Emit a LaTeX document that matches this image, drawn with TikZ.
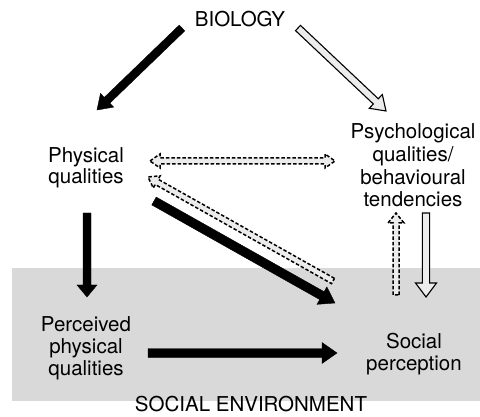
\documentclass[tikz,border=0pt]{standalone}
\usepackage{fontspec}
\setmainfont{TeX Gyre Heros}
\usetikzlibrary{calc}

% Block arrow drawn as a polygon from tail #2 to tip #3:
% #4 half shaft width, #5 half head width, #6 head length
\newcommand\blockarrow[6][]{%
  \coordinate (hb) at ($(#3)!#6!(#2)$);
  \draw[#1] ($(#2)!#4!-90:(#3)$) -- ($(hb)!#4!90:(#2)$) -- ($(hb)!#5!90:(#2)$)
    -- (#3) -- ($(hb)!#5!-90:(#2)$) -- ($(hb)!#4!-90:(#2)$)
    -- ($(#2)!#4!90:(#3)$) -- cycle;
}
% Block arrow with a head at both ends
\newcommand\dblblockarrow[6][]{%
  \coordinate (hba) at ($(#2)!#6!(#3)$);
  \coordinate (hbb) at ($(#3)!#6!(#2)$);
  \draw[#1] (#2) -- ($(hba)!#5!90:(#3)$) -- ($(hba)!#4!90:(#3)$)
    -- ($(hbb)!#4!-90:(#2)$) -- ($(hbb)!#5!-90:(#2)$) -- (#3)
    -- ($(hbb)!#5!90:(#2)$) -- ($(hbb)!#4!90:(#2)$)
    -- ($(hba)!#4!-90:(#3)$) -- ($(hba)!#5!-90:(#3)$) -- cycle;
}

\definecolor{envgray}{gray}{0.85}
\definecolor{arrowfill}{gray}{0.925}

\begin{document}
\begin{tikzpicture}[x=1pt,y=-1pt,
  label/.style={align=center, inner sep=0pt, font=\fontsize{20.5}{#1}\selectfont},
  label/.default=21.7,
  solidarrow/.style={fill=black, draw=black, line width=0.4pt, line join=miter},
  openarrow/.style={fill=arrowfill, draw=black, line width=1.1pt, line join=miter},
  dasharrow/.style={fill=arrowfill, draw=black, line width=1.5pt, dash pattern=on 3.5pt off 2pt, line join=miter}]
  \useasboundingbox (0,0) rectangle (480,417);

  % social environment band
  \fill[envgray] (12,268) rectangle (480,401);

  % labels
  \node[label, anchor=base] (bio) at (240,26.5) {BIOLOGY};
  \node[label=20.7] (phys) at (86,167.8) {Physical\\qualities};
  \node[label=22.8] (psych) at (413,165.3) {Psychological\\qualities/\\behavioural\\tendencies};
  \node[label] (perc) at (86,348.2) {Perceived\\physical\\qualities};
  \node[label] (socp) at (414,353.8) {Social\\perception};
  \node[label, anchor=base] (env) at (251,411.5) {SOCIAL ENVIRONMENT};

  % arrow end points
  \coordinate (bp-s) at (182,28);  \coordinate (bp-e) at (97,110);
  \coordinate (bs-s) at (298,28);  \coordinate (bs-e) at (386,111);
  \coordinate (pq-a) at (150,161); \coordinate (pq-b) at (335,161);
  \coordinate (sp-s) at (333,281); \coordinate (sp-e) at (148,177);
  \coordinate (ps-s) at (154,201); \coordinate (ps-e) at (335,303);
  \coordinate (pp-s) at (87,213);  \coordinate (pp-e) at (87,297);
  \coordinate (pe-s) at (148,353); \coordinate (pe-e) at (337,353);
  \coordinate (su-s) at (396,295); \coordinate (su-e) at (396,213);
  \coordinate (qd-s) at (426,213); \coordinate (qd-e) at (426,297);

  % BIOLOGY -> physical / psychological qualities
  \blockarrow[solidarrow]{bp-s}{bp-e}{4pt}{9.5pt}{14pt}
  \blockarrow[openarrow]{bs-s}{bs-e}{3.6pt}{9.5pt}{14pt}

  % physical <-> psychological qualities
  \dblblockarrow[dasharrow]{pq-a}{pq-b}{3pt}{7pt}{10pt}

  % social perception -> physical qualities
  \blockarrow[dasharrow]{sp-s}{sp-e}{3pt}{7pt}{10pt}

  % physical qualities -> social perception
  \blockarrow[solidarrow]{ps-s}{ps-e}{4.5pt}{10pt}{15pt}

  % physical -> perceived physical qualities
  \blockarrow[solidarrow]{pp-s}{pp-e}{4pt}{10pt}{12pt}

  % perceived physical qualities -> social perception
  \blockarrow[solidarrow]{pe-s}{pe-e}{4.5pt}{10.5pt}{15pt}

  % social perception <-> psychological qualities
  \blockarrow[dasharrow]{su-s}{su-e}{3pt}{8pt}{10pt}
  \blockarrow[openarrow]{qd-s}{qd-e}{3.6pt}{10.5pt}{14pt}
\end{tikzpicture}
\end{document}
